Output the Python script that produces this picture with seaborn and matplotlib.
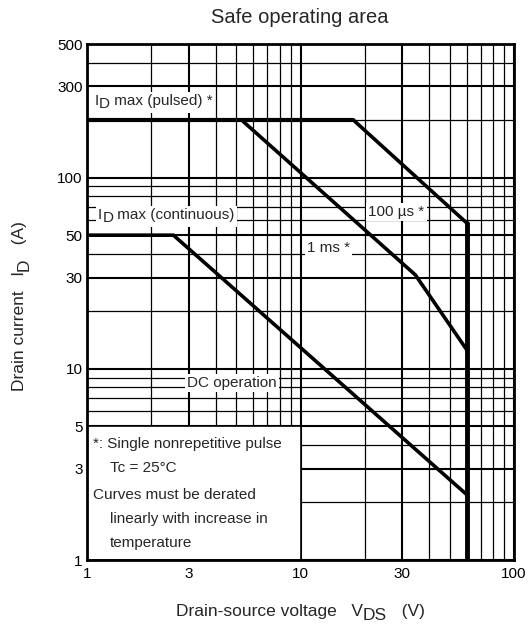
import numpy as np
import pandas as pd
import seaborn as sns
import matplotlib.pyplot as plt
from matplotlib.patches import Rectangle
from matplotlib.transforms import offset_copy, Bbox, IdentityTransform

# SOA curve data
pulsed_v = [1, 17.7]
pulsed_i = [200, 200]
ms1_v = [5.3, 34.5, 60]
ms1_i = [200, 31, 12.6]
us100_v = [17.7, 60]
us100_i = [200, 58]
dc_v = [1, 2.54, 60]
dc_i = [50, 50, 2.2]
vdss_v = [60, 60]
vdss_i = [1, 58]

x_ticks = [1, 3, 10, 30, 100]
y_ticks = [1, 3, 5, 10, 30, 50, 100, 300, 500]

sns.set_style("white")
plt.rcParams['font.family'] = ['Liberation Sans', 'DejaVu Sans']

fig = plt.figure(figsize=(5.28, 6.3), dpi=100)
ax = fig.add_axes([87 / 528, 70 / 630, 427 / 528, 516 / 630])
renderer = fig.canvas.get_renderer()


def text_width(s, fontsize):
    # width in points, measured between bars so spaces count
    t1 = fig.text(0, 0, '|' + s + '|', fontsize=fontsize)
    t2 = fig.text(0, 0, '||', fontsize=fontsize)
    w = t1.get_window_extent(renderer).width - t2.get_window_extent(renderer).width
    t1.remove()
    t2.remove()
    return w * 72 / fig.dpi


def rich_text(target, x, y, parts, transform, fontsize, ha='left',
              rotation=0, background=False, zorder=4):
    """Draw text with full-size, lowered subscripts (datasheet style)."""
    widths = [text_width(s, fontsize) for s, _ in parts]
    off = -sum(widths) / 2 if ha == 'center' else 0.0
    th = np.deg2rad(rotation)
    u = np.array([np.cos(th), np.sin(th)])
    n = np.array([-np.sin(th), np.cos(th)])
    texts = []
    for (s, sub), w in zip(parts, widths):
        d = off * u - (0.25 * fontsize if sub else 0.0) * n
        tr = offset_copy(transform, fig=fig, x=d[0], y=d[1], units='points')
        texts.append(target.text(x, y, s, transform=tr, fontsize=fontsize,
                                 rotation=rotation, rotation_mode='anchor',
                                 ha='left', va='baseline', zorder=zorder + 0.1))
        off += w
    if background:
        # one white patch behind the whole label, in pixel coordinates
        bb = Bbox.union([t.get_window_extent(renderer) for t in texts])
        pad = 2
        target.add_patch(Rectangle((bb.x0 - pad, bb.y0 - pad), bb.width + 2 * pad,
                                   bb.height + 2 * pad, transform=IdentityTransform(),
                                   facecolor='white', edgecolor='none', zorder=zorder))


ax.set_xscale('log')
ax.set_yscale('log')
ax.set_xlim(1, 100)
ax.set_ylim(1, 500)

ax.set_xticks(x_ticks)
ax.set_xticklabels([str(v) for v in x_ticks])
ax.set_yticks(y_ticks)
ax.set_yticklabels([str(v) for v in y_ticks])
ax.xaxis.set_minor_locator(plt.LogLocator(subs=np.arange(2, 10)))
ax.yaxis.set_minor_locator(plt.LogLocator(subs=np.arange(2, 10)))
ax.xaxis.set_minor_formatter(plt.NullFormatter())
ax.yaxis.set_minor_formatter(plt.NullFormatter())
ax.tick_params(which='both', length=0, labelsize=11, colors='black')
ax.tick_params(axis='y', pad=3)
ax.tick_params(axis='x', pad=5)

# decade grid slightly heavier than the minor grid
ax.grid(which='major', color='black', lw=1.5)
ax.grid(which='minor', color='black', lw=0.9)
ax.set_axisbelow(True)
for sp in ax.spines.values():
    sp.set_color('black')
    sp.set_linewidth(2)
    sp.set_zorder(10)

curves = [
    (pulsed_v, pulsed_i, 3),
    (ms1_v, ms1_i, 2.6),
    (us100_v, us100_i, 2.6),
    (dc_v, dc_i, 2.6),
    (vdss_v, vdss_i, 3.5),
]
for xs, ys, lw in curves:
    df = pd.DataFrame({'v': xs, 'i': ys})
    sns.lineplot(data=df, x='v', y='i', estimator=None, sort=False,
                 color='black', lw=lw, ax=ax, zorder=5)

ax.set_xlabel('')
ax.set_ylabel('')

# notes box in the lower left corner
ax.add_patch(Rectangle((1, 1), 9, 4, facecolor='white', edgecolor='black',
                       lw=1.2, zorder=3))

box = dict(facecolor='white', edgecolor='none', pad=1.5)
fs = 11
rich_text(ax, 1.09, 241, [('I', False), ('D', True), (' max (pulsed) *', False)],
          ax.transData, fs, background=True)
rich_text(ax, 1.126, 61, [('I', False), ('D', True), (' max (continuous)', False)],
          ax.transData, fs, background=True)
ax.text(20.8, 63.2, '100 µs *', fontsize=fs, va='baseline', bbox=box, zorder=4)
ax.text(10.75, 40.7, '1 ms *', fontsize=fs, va='baseline', bbox=box, zorder=4)
ax.text(2.94, 8.05, 'DC operation', fontsize=fs, va='baseline', bbox=box, zorder=4)

notes = [
    (0.014, 0.217, '*: Single nonrepetitive pulse'),
    (0.054, 0.171, 'Tc = 25°C'),
    (0.014, 0.118, 'Curves must be derated'),
    (0.054, 0.072, 'linearly with increase in'),
    (0.054, 0.025, 'temperature'),
]
for x, y, s in notes:
    ax.text(x, y, s, transform=ax.transAxes, fontsize=fs, va='baseline', zorder=6)

fig.text(300 / 528, 1 - 23 / 630, 'Safe operating area', fontsize=14.5,
         ha='center', va='baseline')
rich_text(fig, 300 / 528, 1 - 616 / 630,
          [('Drain-source voltage   V', False), ('DS', True), ('   (V)', False)],
          fig.transFigure, 12.5, ha='center')
rich_text(fig, 24 / 528, 1 - 306 / 630,
          [('Drain current   I', False), ('D', True), ('   (A)', False)],
          fig.transFigure, 12.5, ha='center', rotation=90)

fig.savefig('out.png', dpi=100)
